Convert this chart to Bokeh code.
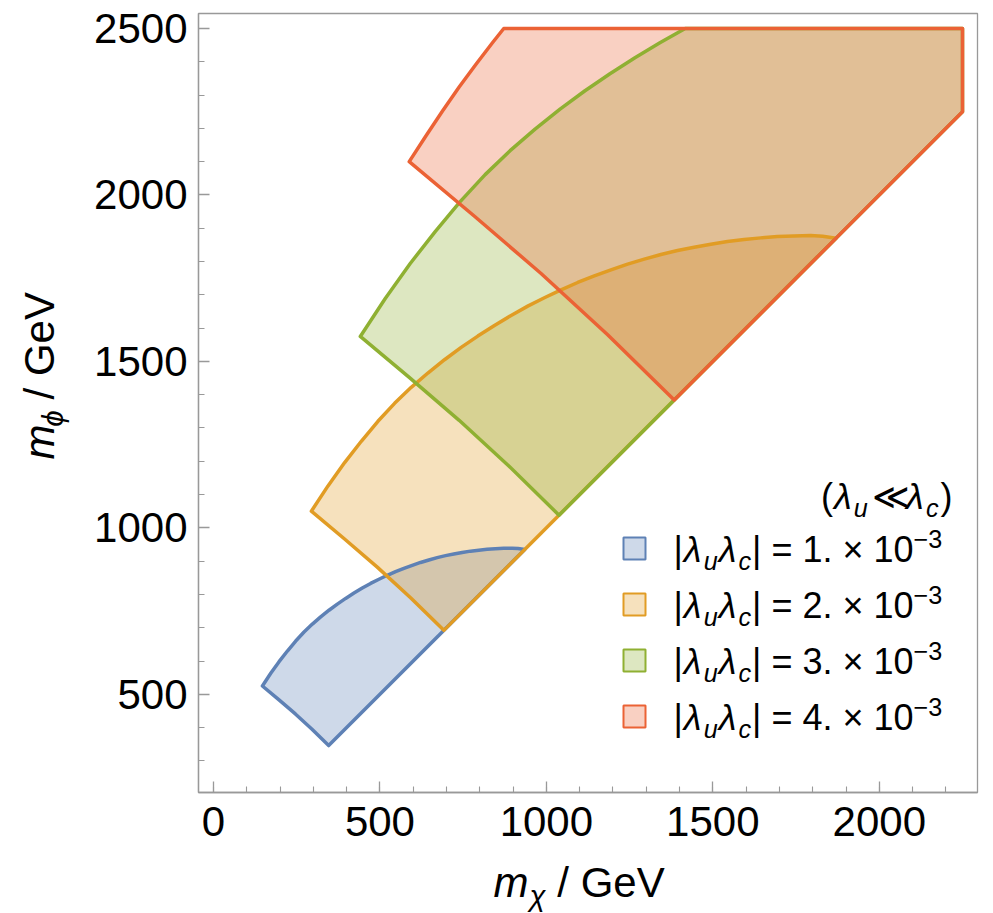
from bokeh.plotting import figure
from bokeh.models import Range1d, FixedTicker, Label
from bokeh.layouts import row, column
from bokeh.embed import file_html
from bokeh.resources import INLINE

# ---------------- data ----------------
couplings = ["1.", "2.", "3.", "4."]
colors = ["#5E81B5", "#E19C24", "#8FB032", "#EB6235"]

# region boundaries (m_chi, m_phi) in GeV: outer arc, then the m_phi = m_chi edge, then the inner edge
blue_x = [147, 172, 197, 222, 247, 272, 297, 322, 347, 372, 397, 422, 447, 472, 497, 522, 547, 572, 597, 622,
          647, 672, 697, 722, 747, 772, 797, 822, 847, 872, 897, 915, 935,
          346, 296, 246, 196]
blue_y = [525, 563, 598, 630, 660, 687, 711, 732.5, 752.5, 771, 788, 804, 819, 833, 845.5, 857.5, 868.5, 878.5,
          887.5, 896, 903.5, 910.5, 916.5, 921.5, 926, 930, 933, 935.5, 937.5, 938.5, 939, 938, 935,
          346, 395, 441, 484]

orange_x = [294, 344, 394, 444, 494, 544, 594, 644, 694, 744, 794, 844, 894, 944, 994, 1044, 1094, 1144, 1194,
            1244, 1294, 1344, 1394, 1444, 1494, 1544, 1594, 1644, 1694, 1744, 1794, 1830, 1870,
            692, 592, 492, 392]
orange_y = [1050, 1126, 1196, 1260, 1320, 1374, 1422, 1465, 1505, 1542, 1576, 1608, 1638, 1666, 1691, 1715,
            1737, 1757, 1775, 1792, 1807, 1821, 1833, 1843, 1852, 1860, 1866, 1871, 1875, 1877, 1878, 1876, 1870,
            692, 790, 882, 968]

green_x = [441, 516, 591, 666, 741, 816, 891, 966, 1041, 1116, 1191, 1266, 1341, 1417,
           2250, 2250, 1038, 888, 738, 588]
green_y = [1575, 1689, 1794, 1890, 1980, 2061, 2133, 2197.5, 2257.5, 2313, 2364, 2412, 2457, 2500,
           2500, 2250, 1038, 1185, 1323, 1452]

red_x = [588, 638, 688, 738, 788, 838, 872, 2250, 2250, 1384, 1184, 984, 784]
red_y = [2100, 2177, 2252, 2324, 2392, 2457, 2500, 2500, 2250, 1384, 1580, 1764, 1936]

regions_x = [blue_x, orange_x, green_x, red_x]
regions_y = [blue_y, orange_y, green_y, red_y]

x_ticks = [0, 500, 1000, 1500, 2000]
y_ticks = [500, 1000, 1500, 2000, 2500]
x_minor = list(range(0, 2300, 100))
y_minor = list(range(300, 2600, 100))

# ---------------- layout ----------------
X0, X1, Y0, Y1 = -45, 2295, 205, 2545
LW = 88                       # width of the left title strip
ML, MT, MR, MB = 110, 13, 8, 62
FS = 779
MW, MH = ML + FS + MR, MT + FS + MB
BH = 58                       # height of the bottom title strip
FL, FT = LW + ML, MT          # frame left/top on the page
K = FS / (X1 - X0)


def dx(sx):
    return X0 + (sx - FL) / K


def dy(sy):
    return Y1 - (sy - FT) / K


FONT = "Liberation Sans"
W = {'|': 0.26, ' ': 0.278, '=': 0.584, '1': 0.556, '2': 0.556, '3': 0.556, '4': 0.556, '0': 0.556,
     '.': 0.278, '×': 0.584, '−': 0.584, '(': 0.333, ')': 0.333, '/': 0.278, 'G': 0.778, 'e': 0.556,
     'V': 0.667, 'm': 0.833, 'u': 0.556, 'c': 0.5, 'λ': 0.55, 'χ': 0.55, 'ϕ': 0.62, '≪': 0.84}
BASE_FIX = 0.3                # the baseline lands about 0.3 em lower than asked; compensate


def twidth(s, size):
    return sum(W.get(ch, 0.556) for ch in s) * size


def runs(fig, tx, ty, parts, sx, sy, size, angle=0.0):
    """place a sequence of styled text pieces; tx/ty map page px to the figure's data units"""
    for text, style, shift, gap in parts:
        fs = size if shift == "n" else size * 0.7
        off = 0 if shift == "n" else (0.22 * size if shift == "sub" else -0.38 * size)
        off -= BASE_FIX * fs
        if angle == 0:
            sx += gap
            x, y = sx, sy + off
        else:
            sy -= gap
            x, y = sx + off, sy
        fig.add_layout(Label(x=tx(x), y=ty(y), text=text, text_font=FONT, text_font_size=f"{fs:.1f}px",
                             text_font_style=style, text_color="black", angle=angle,
                             text_align="left", text_baseline="alphabetic"))
        adv = twidth(text, fs)
        if angle == 0:
            sx += adv
        else:
            sy -= adv


def blank(w, h):
    f = figure(width=w, height=h, x_range=Range1d(0, w), y_range=Range1d(0, h), title=None,
               output_backend="svg", toolbar_location=None, x_axis_location=None, y_axis_location=None,
               min_border_left=0, min_border_right=0, min_border_top=0, min_border_bottom=0)
    f.xgrid.visible = False
    f.ygrid.visible = False
    f.outline_line_color = None
    f.background_fill_color = "white"
    f.border_fill_color = "white"
    return f


p = figure(width=MW, height=MH, x_range=Range1d(X0, X1), y_range=Range1d(Y0, Y1),
           output_backend="svg", toolbar_location=None,
           min_border_left=ML, min_border_right=MR, min_border_top=MT, min_border_bottom=MB)

# ---------------- regions ----------------
for xs, ys, c in zip(regions_x, regions_y, colors):
    p.patch(xs, ys, fill_color=c, fill_alpha=0.3, line_color=None)
for xs, ys, c in zip(regions_x, regions_y, colors):
    p.patch(xs + [xs[0]], ys + [ys[0]], fill_alpha=0, line_color=c, line_width=3.5, line_join="round")

# ---------------- axes ----------------
p.xgrid.visible = False
p.ygrid.visible = False
p.background_fill_color = "white"
p.border_fill_color = "white"
p.outline_line_color = "#999999"
p.outline_line_width = 1.3

for ax, tk, mn in ((p.xaxis, x_ticks, x_minor), (p.yaxis, y_ticks, y_minor)):
    ax.ticker = FixedTicker(ticks=tk, minor_ticks=mn)
    ax.axis_line_color = "#999999"
    ax.axis_line_width = 1.3
    ax.major_tick_line_color = "#999999"
    ax.minor_tick_line_color = "#999999"
    ax.major_tick_line_width = 1.3
    ax.minor_tick_line_width = 1.1
    ax.major_tick_in = 11
    ax.major_tick_out = 0
    ax.minor_tick_in = 6
    ax.minor_tick_out = 0
    ax.major_label_text_font = FONT
    ax.major_label_text_font_size = "42px"
    ax.major_label_text_color = "black"
    ax.axis_label = None
p.xaxis.major_label_standoff = 14
p.yaxis.major_label_standoff = 11

# ---------------- legend (inside the frame) ----------------
LS = 36
title = [("(", "normal", "n", 0), ("λ", "italic", "n", 1), ("u", "italic", "sub", 0),
         ("≪", "normal", "n", 4), ("λ", "italic", "n", 4), ("c", "italic", "sub", 0), (")", "normal", "n", 2)]
tw = sum(twidth(t, LS if s == "n" else LS * 0.7) + g for t, _, s, g in title)
runs(p, dx, dy, title, 952 - tw, 507, LS)

centers = [548, 604, 660, 716]
for cpl, c, cy in zip(couplings, colors, centers):
    p.rect(x=[dx(634)], y=[dy(cy)], width=22, height=22, width_units="screen", height_units="screen",
           fill_color=c, fill_alpha=0.3, line_color=c, line_width=2)
    runs(p, dx, dy,
         [("|", "normal", "n", 0), ("λ", "italic", "n", 1), ("u", "italic", "sub", 0),
          ("λ", "italic", "n", 1), ("c", "italic", "sub", 0),
          (f"| = {cpl} × 10", "normal", "n", 1), ("−3", "normal", "sup", 0)],
         673, cy + 12, LS)

# ---------------- axis titles in their own strips ----------------
TS = 42
left = blank(LW, MH)
runs(left, lambda sx: sx, lambda sy: MH - sy,
     [("m", "italic", "n", 0), ("ϕ", "italic", "sub", 1), ("/ GeV", "normal", "n", TS * 0.278)],
     52, 489, TS, angle=1.5707963)

bottom = blank(LW + MW, BH)
runs(bottom, lambda sx: sx, lambda sy: BH - (sy - MH),
     [("m", "italic", "n", 0), ("χ", "italic", "sub", 1), ("/ GeV", "normal", "n", TS * 0.278)],
     493, 895, TS)

layout = column(row(left, p, spacing=0), bottom, spacing=0)
open("out.html", "w").write(file_html(layout, INLINE))
